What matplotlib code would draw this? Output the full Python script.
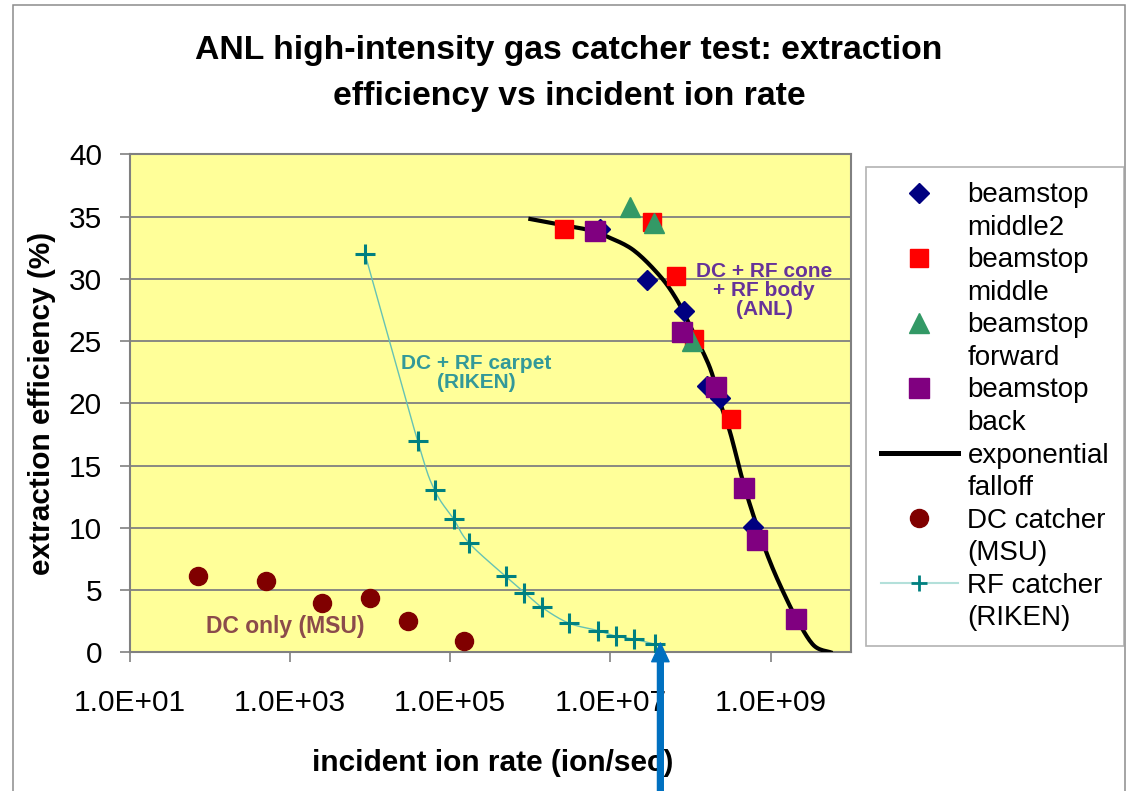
import matplotlib
matplotlib.use('Agg')
import numpy as np
import matplotlib.pyplot as plt
from matplotlib.lines import Line2D
from matplotlib.patches import Rectangle
from matplotlib.ticker import NullLocator

plt.rcParams['font.family'] = ['Liberation Sans', 'DejaVu Sans']

# beamstop middle2
mid2_x = [7.4e6, 2.84e7, 8.2e7, 1.62e8, 2.36e8, 6.1e8]
mid2_y = [34.0, 29.9, 27.4, 21.4, 20.4, 10.1]
# beamstop middle
mid_x = [2.6e6, 3.3e7, 6.6e7, 1.09e8, 3.2e8]
mid_y = [34.0, 34.6, 30.2, 25.2, 18.7]
# beamstop forward
fwd_x = [1.73e7, 3.5e7, 1.04e8]
fwd_y = [35.8, 34.5, 25.0]
# beamstop back
back_x = [6.4e6, 7.8e7, 2.08e8, 4.7e8, 6.8e8, 2.1e9]
back_y = [33.8, 25.7, 21.3, 13.2, 9.0, 2.7]
# exponential falloff
fit_x = [1.0e6, 2.13e6, 5.56e6, 9.0e6, 1.94e7, 4.18e7, 6.76e7, 9.9e7, 1.46e8, 1.85e8,
         2.36e8, 3.14e8, 4.57e8, 6.78e8, 9.93e8, 1.46e9, 2.15e9, 3.46e9, 5.6e9]
fit_y = [34.8, 34.4, 33.9, 33.4, 32.3, 30.2, 28.3, 26.2, 24.0, 22.4,
         20.0, 17.6, 13.6, 10.1, 7.2, 4.75, 2.6, 0.55, 0.0]
# DC catcher (MSU)
dc_x = [70, 500, 2.5e3, 1.0e4, 3.0e4, 1.5e5]
dc_y = [6.1, 5.7, 4.0, 4.4, 2.5, 0.9]
# RF catcher (RIKEN)
rf_x = [8.6e3, 3.9e4, 6.4e4, 1.1e5, 1.7e5, 4.9e5, 8.4e5, 1.4e6, 3.0e6, 6.9e6, 1.16e7, 1.97e7, 3.6e7]
rf_y = [32.0, 17.0, 13.0, 10.7, 8.8, 6.1, 4.8, 3.6, 2.35, 1.75, 1.3, 1.05, 0.65]

xticks = [1e1, 1e3, 1e5, 1e7, 1e9]
xtick_labels = ['1.0E+01', '1.0E+03', '1.0E+05', '1.0E+07', '1.0E+09']
yticks = [0, 5, 10, 15, 20, 25, 30, 35, 40]

arrow_x = 4.2e7


def smooth(xs, ys, n=12):
    # Excel-like smoothed line: Catmull-Rom through the points, in log-x space
    lx = np.log10(xs)
    y = np.asarray(ys, float)
    P = np.column_stack([lx, y])
    P = np.vstack([P[0], P, P[-1]])
    out = []
    for i in range(1, len(P) - 2):
        p0, p1, p2, p3 = P[i - 1], P[i], P[i + 1], P[i + 2]
        for t in np.linspace(0, 1, n, endpoint=False):
            t2, t3 = t * t, t * t * t
            out.append(0.5 * (2 * p1 + (-p0 + p2) * t + (2 * p0 - 5 * p1 + 4 * p2 - p3) * t2
                              + (-p0 + 3 * p1 - 3 * p2 + p3) * t3))
    out.append(P[-2])
    out = np.array(out)
    return 10 ** out[:, 0], out[:, 1]


W, H = 1129, 791
fig = plt.figure(figsize=(W / 100, H / 100), dpi=100)
ax = fig.add_axes([130 / W, 1 - 652.3 / H, 720.7 / W, 498 / H])
ax.set_facecolor('#ffff99')

# outer chart border
fig.patches.append(Rectangle((13 / W, -0.02), 1112 / W, 1 - 5 / H + 0.02,
                             transform=fig.transFigure, fill=False,
                             edgecolor='#8c8c8c', lw=1.1))

sx, sy = smooth(fit_x, fit_y)
ax.plot(sx, sy, color='black', lw=3, zorder=3)
ax.plot(mid2_x, mid2_y, 'D', color='#000080', ms=10, mec='#000080', zorder=4, ls='none')
ax.plot(mid_x, mid_y, 's', color='#ff0000', ms=13, mec='#ff0000', zorder=5, ls='none')
ax.plot(fwd_x, fwd_y, '^', color='#339966', ms=15, mec='#339966', zorder=6, ls='none')
ax.plot(back_x, back_y, 's', color='#800080', ms=14.5, mec='#800080', zorder=7, ls='none')
ax.plot(dc_x, dc_y, 'o', color='#800000', ms=13, mec='#800000', zorder=8, ls='none')
rx, ry = smooth(rf_x, rf_y)
ax.plot(rx, ry, color='#66c2b4', lw=1, zorder=8)
ax.plot(rf_x, rf_y, '+', color='#008080', ms=15, mew=2.2, zorder=9, ls='none')

ax.set_xscale('log')
ax.set_xlim(1e1, 1e10)
ax.set_ylim(0, 40)
ax.set_xticks(xticks)
ax.set_xticklabels(xtick_labels)
ax.xaxis.set_minor_locator(NullLocator())
ax.set_yticks(yticks)
ax.yaxis.grid(True, color='#808080', lw=1.3)
ax.set_axisbelow(True)
for s in ax.spines.values():
    s.set_color('#808080')
    s.set_linewidth(1.5)
ax.tick_params(axis='both', direction='out', length=7.2, width=1.2, color='#808080',
               labelsize=21.5)
ax.tick_params(axis='y', pad=13)
ax.tick_params(axis='x', pad=19)

ax.set_xlabel('incident ion rate (ion/sec)', fontsize=21.5, fontweight='bold')
ax.set_ylabel('extraction efficiency (%)', fontsize=21.5, fontweight='bold')
ax.xaxis.set_label_coords((493 - 130) / 720.7, (652.3 - 763) / 498)
ax.xaxis.label.set_va('center')
ax.yaxis.set_label_coords((42 - 130) / 720.7, 0.5)
ax.yaxis.label.set_va('center')

fig.text(569 / W, 1 - 50 / H, 'ANL high-intensity gas catcher test: extraction',
         ha='center', va='center', fontsize=24.3, fontweight='bold')
fig.text(569 / W, 1 - 97 / H, 'efficiency vs incident ion rate',
         ha='center', va='center', fontsize=24.3, fontweight='bold')

# annotations inside the plot
ax.text(0.48, 0.56, 'DC + RF carpet\n(RIKEN)', transform=ax.transAxes, ha='center',
        va='center', fontsize=15, fontweight='bold', color='#339999', linespacing=1.0)
ax.text(0.88, 0.726, 'DC + RF cone\n+ RF body\n(ANL)', transform=ax.transAxes, ha='center',
        va='center', fontsize=15, fontweight='bold', color='#663399', linespacing=1.0)
ax.text(0.216, 0.052, 'DC only (MSU)', transform=ax.transAxes, ha='center',
        va='center', fontsize=16.5, fontweight='bold', color='#8b4b4b')

# blue arrow from below the chart
ax.annotate('', xy=(arrow_x, 0.75), xytext=(arrow_x, 0), textcoords=('data', 'figure fraction'),
            annotation_clip=False,
            arrowprops=dict(arrowstyle='simple,head_length=1.35,head_width=1.25,tail_width=0.42',
                            mutation_scale=10, color='#0070c0', shrinkA=0, shrinkB=0),
            zorder=10)

blank = Line2D([], [], ls='none')
handles = [
    Line2D([], [], ls='none', marker='D', color='#000080', ms=10), blank,
    Line2D([], [], ls='none', marker='s', color='#ff0000', ms=13), blank,
    Line2D([], [], ls='none', marker='^', color='#339966', ms=15), blank,
    Line2D([], [], ls='none', marker='s', color='#800080', ms=14.5), blank,
    Line2D([], [], color='black', lw=3.6), blank,
    Line2D([], [], ls='none', marker='o', color='#800000', ms=13), blank,
    Line2D([], [], color='#b3e0da', lw=1.5, marker='+', mec='#008080', ms=11, mew=2), blank,
]
labels = ['beamstop', 'middle2', 'beamstop', 'middle', 'beamstop', 'forward',
          'beamstop', 'back', 'exponential', 'falloff', 'DC catcher', '(MSU)',
          'RF catcher', '(RIKEN)']
leg = fig.legend(handles, labels, loc='upper left', bbox_to_anchor=(866 / W, 1 - 167 / H),
                 frameon=True, fancybox=False, edgecolor='#a0a0a0', fontsize=20,
                 numpoints=1, handlelength=2.75, handletextpad=0.35, borderpad=0.55,
                 labelspacing=0.235, borderaxespad=0)
leg.get_frame().set_linewidth(1.2)

fig.savefig('out.png', dpi=100, facecolor='white')
